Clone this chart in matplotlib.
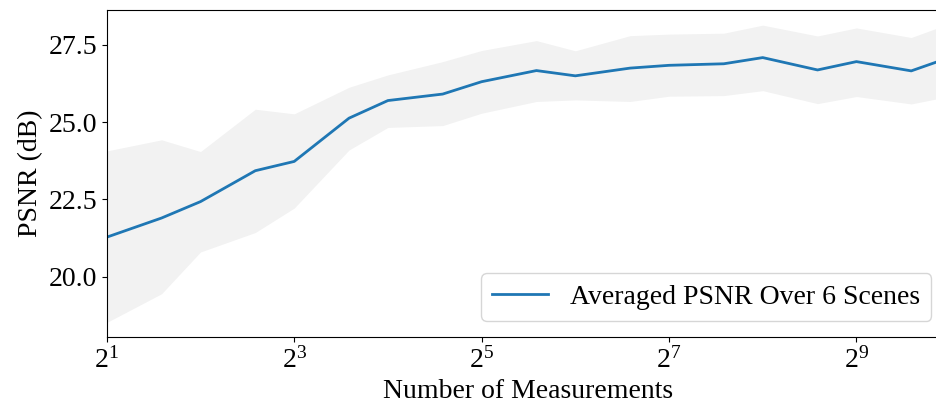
import numpy as np
import matplotlib
matplotlib.use("Agg")
import matplotlib.pyplot as plt
from matplotlib.ticker import FixedLocator, LogFormatterSciNotation, NullLocator

plt.rcParams['font.family'] = ['Liberation Serif', 'DejaVu Serif']
plt.rcParams['mathtext.fontset'] = 'stix'
plt.rcParams['font.size'] = 20

# number of measurements
n_meas = [2, 3, 4, 6, 8, 12, 16, 24, 32, 48, 64, 96, 128, 192, 256, 384, 512, 768, 1024]
# averaged PSNR and spread band (dB)
psnr_mean = [21.28, 21.90, 22.43, 23.43, 23.73, 25.13, 25.70, 25.91, 26.31, 26.67, 26.50,
             26.75, 26.84, 26.89, 27.09, 26.69, 26.96, 26.66, 27.10]
psnr_upper = [24.07, 24.43, 24.05, 25.42, 25.27, 26.13, 26.53, 26.96, 27.32, 27.64, 27.31,
              27.80, 27.85, 27.88, 28.14, 27.79, 28.05, 27.74, 28.20]
psnr_lower = [18.52, 19.45, 20.80, 21.43, 22.22, 24.10, 24.83, 24.89, 25.29, 25.67, 25.72,
              25.67, 25.84, 25.86, 26.02, 25.60, 25.83, 25.59, 25.84]

fig = plt.figure(figsize=(9.36, 4.13), dpi=100)
ax = fig.add_axes([0.1141, 0.1833, 0.901, 0.7925])

ax.fill_between(n_meas, psnr_lower, psnr_upper, color='gray', alpha=0.1, linewidth=0)
ax.plot(n_meas, psnr_mean, color='tab:blue', linewidth=2, label='Averaged PSNR Over 6 Scenes')

ax.set_xscale('log', base=2)
ax.set_xlim(2, 1024)
ax.set_ylim(18.04, 28.63)
ax.xaxis.set_major_locator(FixedLocator([2, 8, 32, 128, 512]))
ax.xaxis.set_major_formatter(LogFormatterSciNotation(base=2))
ax.xaxis.set_minor_locator(NullLocator())
ax.set_yticks([20.0, 22.5, 25.0, 27.5])

ax.set_xlabel('Number of Measurements')
ax.set_ylabel('PSNR (dB)')
ax.legend(loc='lower right', bbox_to_anchor=(0.994, 0.008), borderaxespad=0.5)

fig.savefig('out.png', dpi=100)
